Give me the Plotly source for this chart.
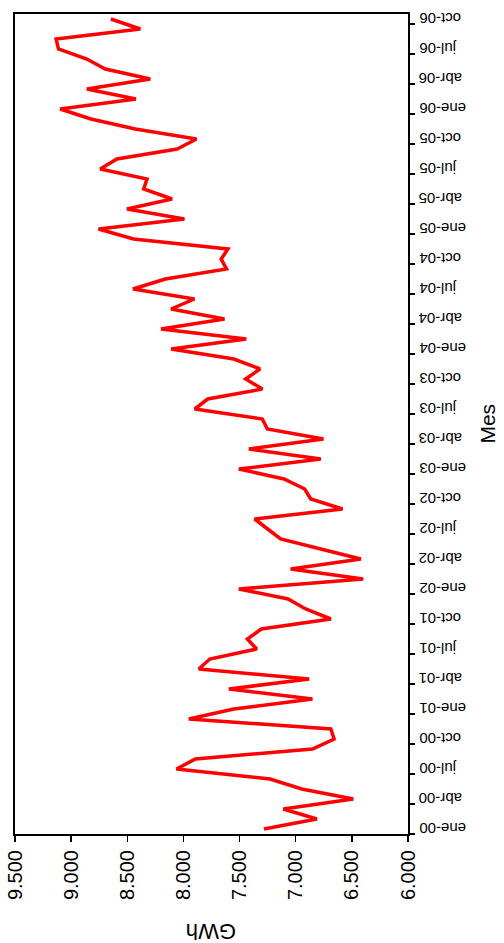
import plotly.graph_objects as go

month_abbr = ["ene", "feb", "mar", "abr", "may", "jun", "jul", "ago", "sep", "oct", "nov", "dic"]
years = ["00", "01", "02", "03", "04", "05", "06"]
months = [f"{m}-{y}" for y in years for m in month_abbr][:82]  # ene-00 .. oct-06

gwh = [
    7283, 6812, 7110, 6488, 6946, 7229, 8062, 7893, 6851, 6658,
    6687, 7952, 7551, 6851, 7595, 6881, 7863, 7765, 7348, 7431,
    7306, 6687, 6911, 7068, 7506, 6399, 7045, 6420, 6777, 7134,
    7250, 7366, 6583, 6866, 6920, 7104, 7506, 6777, 7417, 6753,
    7253, 7297, 7899, 7783, 7297, 7446, 7318, 7551, 8110, 7440,
    8199, 7634, 8110, 7902, 8449, 8161, 7616, 7664, 7604, 8444,
    8756, 7991, 8503, 8101, 8354, 8324, 8741, 8592, 8056, 7884,
    8429, 8824, 9098, 8423, 8860, 8295, 8696, 8860, 9113, 9134,
    8384, 8646,
]

gwh_ticks = [6000, 6500, 7000, 7500, 8000, 8500, 9000, 9500]
gwh_ticktext = ["6.000", "6.500", "7.000", "7.500", "8.000", "8.500", "9.000", "9.500"]

idx = list(range(len(months)))
label_idx = idx[::3]
label_text = [months[i] for i in label_idx]
boundary_ticks = [i - 0.5 for i in range(0, len(months) + 1, 3)]

FONT = "Liberation Sans, Arial, sans-serif"

fig = go.Figure()
fig.add_trace(go.Scatter(
    x=gwh, y=idx, mode="lines",
    line=dict(color="#FF0000", width=3.5),
    hoverinfo="skip",
))

annotations = [
    dict(text=t, xref="paper", yref="y", x=1.0, xshift=9, y=i,
         xanchor="left", yanchor="middle", showarrow=False,
         textangle=180, font=dict(size=15, family=FONT, color="black"))
    for i, t in zip(label_idx, label_text)
]
annotations += [
    dict(text="GWh", xref="paper", yref="paper", x=0.5, y=-0.118,
         xanchor="center", yanchor="middle", showarrow=False,
         textangle=180, font=dict(size=22, family=FONT, color="black")),
    dict(text="Mes", xref="paper", yref="paper", x=1.2, y=0.5,
         xanchor="center", yanchor="middle", showarrow=False,
         textangle=-90, font=dict(size=21, family=FONT, color="black")),
]

fig.update_layout(
    width=504, height=943,
    margin=dict(l=15, r=96, t=14, b=109),
    paper_bgcolor="white", plot_bgcolor="white",
    showlegend=False,
    font=dict(family=FONT, color="black"),
    xaxis=dict(
        range=[9500, 6000],
        tickvals=gwh_ticks, ticktext=gwh_ticktext,
        tickangle=-90,
        tickfont=dict(size=20, family=FONT, color="black"),
        ticks="outside", ticklen=6, tickwidth=1.5, tickcolor="black",
        ticklabeloverflow="allow",
        showline=True, linecolor="black", linewidth=2, mirror=True,
        showgrid=False, zeroline=False, automargin=False,
    ),
    yaxis=dict(
        range=[-0.5, len(months) - 0.5],
        side="right",
        tickvals=label_idx, showticklabels=False,
        ticks="", ticklen=0,
        minor=dict(tickvals=boundary_ticks, ticks="outside", ticklen=5,
                   tickwidth=1.5, tickcolor="black", showgrid=False),
        showline=True, linecolor="black", linewidth=2, mirror=True,
        showgrid=False, zeroline=False, automargin=False,
    ),
    annotations=annotations,
)

fig.write_html(
    "out.html",
    config={"displayModeBar": False, "staticPlot": True},
    post_script="document.body.style.margin='0';document.body.style.padding='0';",
)
